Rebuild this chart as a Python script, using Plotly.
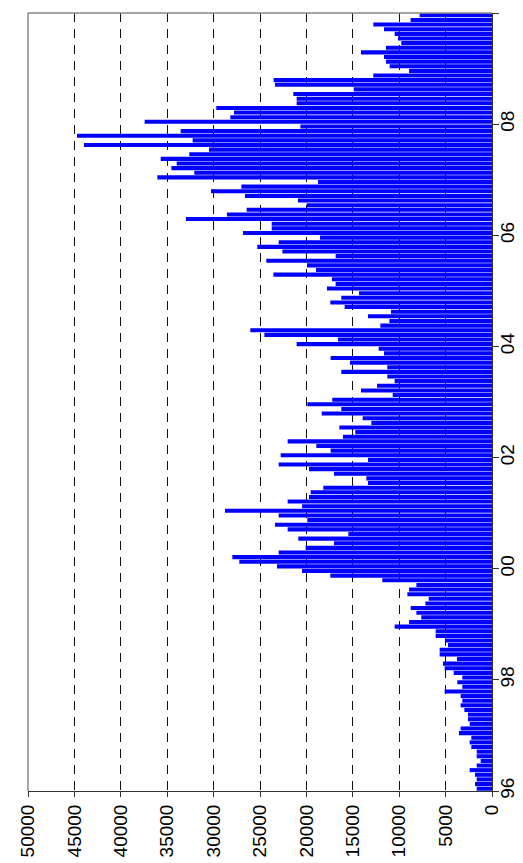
import plotly.graph_objects as go

# Monthly values, January -> December
years = list(range(1996, 2010))
v1996 = [1650, 1830, 1650, 1830, 2410, 1650, 1220, 1650, 1650, 2230, 2410, 2230]
v1997 = [3560, 3380, 2410, 2590, 2590, 2980, 3380, 3200, 3380, 5100, 3200, 3740]
v1998 = [3200, 4130, 5100, 5280, 3770, 5640, 5640, 4740, 5030, 6070, 6070, 10490]
v1999 = [8940, 7620, 8150, 8760, 7180, 6820, 9120, 8940, 8150, 11820, 17420, 20470]
v2000 = [23170, 27230, 27980, 22990, 20080, 17030, 20870, 15480, 22020, 23380, 19900, 22990]
v2001 = [28770, 20470, 22020, 19720, 19540, 18180, 13360, 13540, 17030, 19720, 22990, 13360]
v2002 = [22770, 17390, 18930, 22020, 16060, 14730, 16450, 13000, 13940, 18350, 16240, 19900]
v2003 = [17210, 10700, 14120, 12390, 10490, 11280, 16240, 11280, 15300, 17390, 11640, 12210]
v2004 = [21050, 16600, 24530, 26040, 12030, 11060, 13360, 10880, 15880, 17420, 16240, 14330]
v2005 = [17780, 16850, 17240, 23560, 18970, 19940, 24320, 16850, 22590, 25290, 22990, 18530]
v2006 = [26830, 23740, 23740, 32980, 28560, 26440, 19970, 20910, 26620, 30280, 27010, 18750]
v2007 = [36060, 32080, 34550, 33980, 35700, 32620, 30500, 43970, 32260, 44720, 33550, 20650]
v2008 = [37430, 28200, 27800, 29710, 21050, 21050, 21410, 14900, 23380, 23530, 12790, 8940]
v2009 = [11030, 11420, 11640, 14120, 11420, 9770, 10130, 10490, 11640, 12790, 8770, 7800]

value_ticks = list(range(0, 50001, 5000))
year_ticks = [1996, 1998, 2000, 2002, 2004, 2006, 2008, 2010]
year_labels = ["96", "98", "00", "02", "04", "06", "08", ""]

values = (v1996 + v1997 + v1998 + v1999 + v2000 + v2001 + v2002 + v2003
          + v2004 + v2005 + v2006 + v2007 + v2008 + v2009)
positions = [y + (m + 0.5) / 12 for y in years for m in range(12)]

FONT = "Liberation Sans, Arial, sans-serif"

fig = go.Figure(
    go.Bar(
        x=values,
        y=positions,
        orientation="h",
        marker=dict(color="#0000FF", line=dict(width=0)),
        hoverinfo="skip",
    )
)

fig.update_layout(
    width=523,
    height=863,
    margin=dict(l=20, r=39, t=5, b=80, autoexpand=False),
    paper_bgcolor="white",
    plot_bgcolor="white",
    bargap=0.12,
    showlegend=False,
    font=dict(family=FONT, size=19, color="black"),
    xaxis=dict(
        range=[50000, 0],
        tickvals=value_ticks,
        ticktext=[str(v) for v in value_ticks],
        tickangle=-90,
        ticks="outside",
        ticklen=5,
        tickcolor="#333333",
        showline=True,
        linecolor="#333333",
        linewidth=1,
        showgrid=True,
        gridcolor="#111111",
        gridwidth=1,
        griddash="9px,7px",
        zeroline=False,
        automargin=False,
        tickfont=dict(family=FONT, size=19, color="black"),
    ),
    yaxis=dict(
        range=[1996, 2010],
        side="right",
        tickvals=year_ticks,
        ticktext=year_labels,
        tickangle=-90,
        ticks="outside",
        ticklen=6,
        tickcolor="#333333",
        showline=True,
        linecolor="#333333",
        linewidth=1,
        showgrid=False,
        zeroline=False,
        automargin=False,
        ticklabelstandoff=-8,
        tickfont=dict(family=FONT, size=19, color="black"),
    ),
    shapes=[
        dict(type="line", xref="paper", yref="paper", x0=0, x1=1, y0=1, y1=1,
             line=dict(color="#888888", width=1.5), layer="above"),
        dict(type="line", xref="paper", yref="paper", x0=0, x1=0, y0=0, y1=1,
             line=dict(color="#888888", width=1.5), layer="above"),
    ],
)

fig.write_html("out.html")
